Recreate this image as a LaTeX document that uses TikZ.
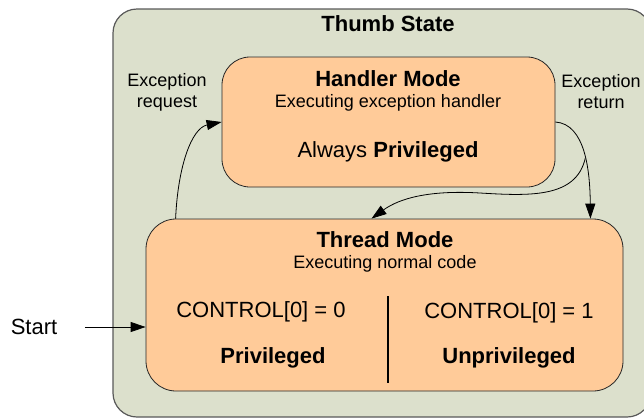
\documentclass[tikz,border=0pt]{standalone}
\usepackage{fontspec}
\setmainfont{Liberation Sans}
\usetikzlibrary{arrows.meta}

\definecolor{statefill}{RGB}{220,224,204}
\definecolor{modefill}{RGB}{255,203,153}

\tikzset{
  modebox/.style={draw=black!85, fill=modefill, line width=0.8pt},
  bigtext/.style={font=\fontsize{22}{26}\selectfont},
  smalltext/.style={font=\fontsize{18}{21}\selectfont},
  trans/.style={-{Triangle[length=15pt,width=10pt]}, line width=0.8pt},
}

\begin{document}
\begin{tikzpicture}[x=1pt,y=-1pt]
  \useasboundingbox (0,0) rectangle (644,418);
  % outer state, cut off by the page
  \begin{scope}
    \clip (0,0) rectangle (644,418);
    \node[draw=black!65, fill=statefill, line width=1.2pt, rounded corners=24pt,
      minimum width=538pt, minimum height=408pt] (thumb) at (382,213) {};
  \end{scope}
  \node[bigtext] (thumbtitle) at (388,24) {\textbf{Thumb State}};

  % the two modes
  \node[modebox, rounded corners=28pt, minimum width=333pt, minimum height=130pt] (handler) at (388.5,122) {};
  \node[modebox, rounded corners=30pt, minimum width=477pt, minimum height=172pt] (thread) at (384.5,305) {};

  \node[bigtext] (handlertitle) at (388,79) {\textbf{Handler Mode}};
  \node[smalltext] (handlersub) at (388,103) {Executing exception handler};
  \node[bigtext] (handlerpriv) at (388,152) {Always \textbf{Privileged}};

  \node[bigtext] (threadtitle) at (385,240) {\textbf{Thread Mode}};
  \node[smalltext] (threadsub) at (385,264) {Executing normal code};
  \node[bigtext] (ctrlzero) at (261,312) {CONTROL[0] = 0};
  \node[bigtext] (ctrlone) at (509,313) {CONTROL[0] = 1};
  \node[bigtext] (priv) at (273,358) {\textbf{Privileged}};
  \node[bigtext] (unpriv) at (509,358) {\textbf{Unprivileged}};
  \draw[line width=1.3pt] (388,296) -- (388,383);

  \node[smalltext, align=center] (excreq) at (167,92) {Exception\\request};
  \node[smalltext, align=center] (excret) at (601,92) {Exception\\return};
  \node[bigtext] (start) at (34,327) {Start};

  % transitions
  \draw[trans] ([xshift=30pt]thread.north west) .. controls (178,165) and (192,128) .. (handler.west);
  \draw[trans] (handler.east) .. controls (585,124) and (590,170) ..
    coordinate[pos=0.55] (retsplit) ([xshift=-33pt]thread.north east);
  \draw[trans] (retsplit) .. controls (576,198) and (530,196) .. (480,193)
    .. controls (430,190) and (400,198) .. ([xshift=-13pt]thread.north);
  \draw[trans] ([xshift=24pt]start.east) -- (start -| thread.west);
\end{tikzpicture}
\end{document}
